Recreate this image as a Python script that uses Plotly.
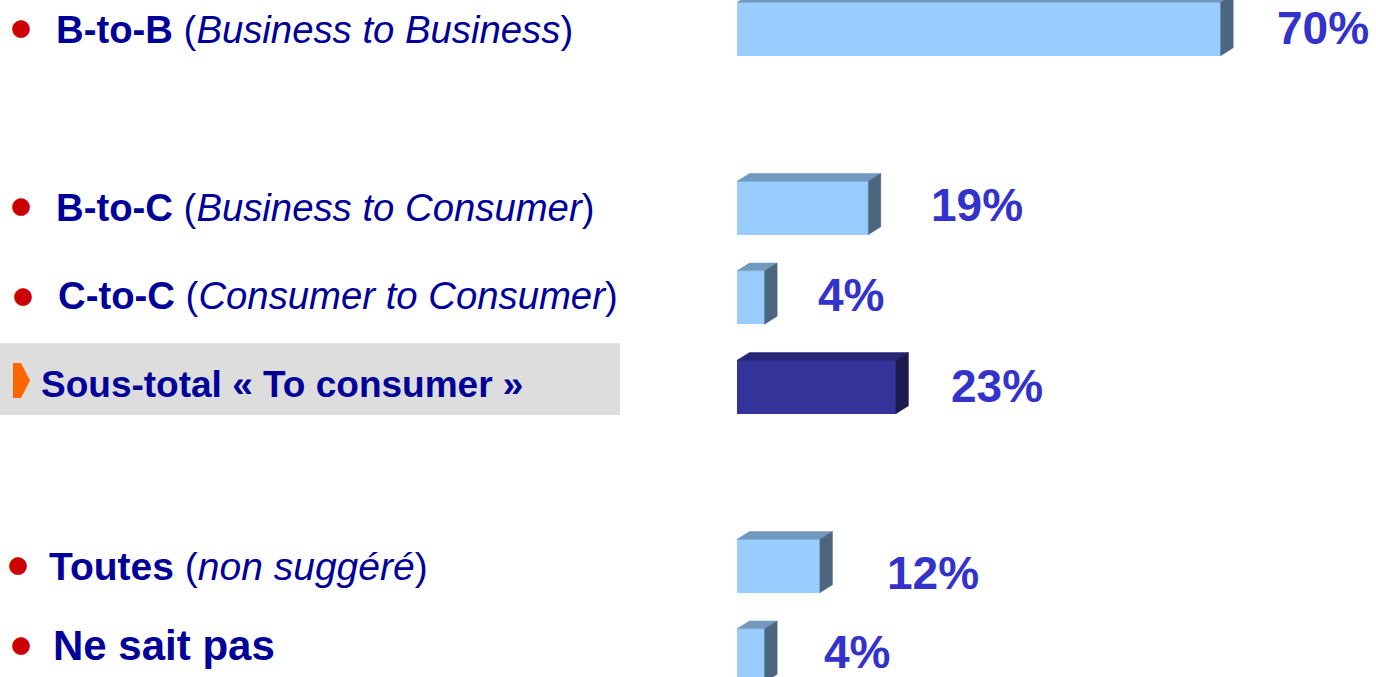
import plotly.graph_objects as go

# ---------------- data ----------------
categories = ["B-to-B", "B-to-C", "C-to-C", "Sous-total « To consumer »", "Toutes", "Ne sait pas"]
details = ["Business to Business", "Business to Consumer", "Consumer to Consumer", "", "non suggéré", ""]
values = [70, 19, 4, 23, 12, 4]
value_labels = ["70%", "19%", "4%", "23%", "12%", "4%"]
is_subtotal = [False, False, False, True, False, False]

# ---------------- layout / style ----------------
W, H = 1376, 677
rows = [0, 2, 3, 4, 6, 7]           # vertical slot of each category
PX_PER_UNIT = 6.91                   # horizontal px per percent
PX_PER_ROW = 89.5
ZERO_PX = 737
ROW0_PX = 29
bar_w = 0.596
dx = 12.5 / PX_PER_UNIT
dy = 7.8 / PX_PER_ROW

light = dict(front="#99CCFF", top="#7399C0", side="#4D6680")
dark = dict(front="#333399", top="#262673", side="#1B1B4D")

label_x_px = [54, 54, 56, 39, 47, 51]
label_size = [38.3, 38.3, 38.3, 37, 39, 42]
bullet_x_px = [21, 21, 23, None, 18, 21]
label_dy_px = [0, -1, -2.5, -3, 0, -10]
bullet_dy_px = [-2, -3, -3, 0, -2, -12]
value_dx_px = [54, 61, 51, 53, 65, 57]
value_dy_px = [-1, -3, -3, -1, 7, -4]

TEXT_BLUE = "#000099"
VALUE_BLUE = "#3333CC"
FONT = "Liberation Sans, Arial, sans-serif"

fig = go.Figure()

# front faces
fig.add_trace(go.Bar(
    x=values, y=rows, orientation="h", width=bar_w,
    marker=dict(color=[dark["front"] if s else light["front"] for s in is_subtotal], line=dict(width=0)),
    hoverinfo="skip", showlegend=False,
))

# 3D top and side faces
for v, r, s in zip(values, rows, is_subtotal):
    pal = dark if s else light
    top = r - bar_w / 2
    bot = r + bar_w / 2
    fig.add_trace(go.Scatter(
        x=[0, v, v + dx, dx, 0], y=[top, top, top - dy, top - dy, top],
        fill="toself", fillcolor=pal["top"], mode="lines", line=dict(width=0.5, color=pal["top"]),
        hoverinfo="skip", showlegend=False,
    ))
    fig.add_trace(go.Scatter(
        x=[v, v + dx, v + dx, v, v], y=[top, top - dy, bot - dy, bot, top],
        fill="toself", fillcolor=pal["side"], mode="lines", line=dict(width=0.5, color=pal["side"]),
        hoverinfo="skip", showlegend=False,
    ))

annotations = []
shapes = []
for i, (cat, det, v, vl, r, s) in enumerate(zip(categories, details, values, value_labels, rows, is_subtotal)):
    # value label
    annotations.append(dict(
        x=v, y=r, xref="x", yref="y", xanchor="left", yanchor="middle",
        xshift=value_dx_px[i], yshift=-value_dy_px[i],
        text=f"<b>{vl}</b>", showarrow=False,
        font=dict(family=FONT, size=46, color=VALUE_BLUE),
    ))
    # category label
    txt = f"<b>{cat}</b>"
    if det:
        txt += f" (<i>{det}</i>)"
    annotations.append(dict(
        x=label_x_px[i] / W, y=r, xref="paper", yref="y", xanchor="left", yanchor="middle",
        yshift=-label_dy_px[i], text=txt, showarrow=False,
        font=dict(family=FONT, size=label_size[i], color=TEXT_BLUE),
    ))
    if bullet_x_px[i] is not None:
        annotations.append(dict(
            x=bullet_x_px[i] / W, y=r, xref="paper", yref="y", xanchor="center", yanchor="middle",
            yshift=-bullet_dy_px[i], text="●", showarrow=False,
            font=dict(family="DejaVu Sans", size=23, color="#CC0000"),
        ))
    if s:
        shapes.append(dict(
            type="rect", xref="paper", yref="y", x0=0, x1=620 / W,
            y0=r - 0.49, y1=r + 0.313, fillcolor="#DDDDDD", line=dict(width=0), layer="below",
        ))
        # orange arrow bullet
        yc = r - 6.5 / PX_PER_ROW
        h = 17.5 / PX_PER_ROW
        x0, x1, x2 = 13 / W, 21 / W, 30 / W
        shapes.append(dict(
            type="path", xref="paper", yref="y",
            path=f"M {x0},{yc - h} L {x1},{yc - h} L {x2},{yc} L {x1},{yc + h} L {x0},{yc + h} Z",
            fillcolor="#FF6600", line=dict(width=0),
        ))

x_min = -ZERO_PX / PX_PER_UNIT
x_max = (W - ZERO_PX) / PX_PER_UNIT
y_top = -ROW0_PX / PX_PER_ROW
y_bot = (H - ROW0_PX) / PX_PER_ROW

fig.update_layout(
    width=W, height=H,
    margin=dict(l=0, r=0, t=0, b=0),
    paper_bgcolor="white", plot_bgcolor="white",
    xaxis=dict(range=[x_min, x_max], visible=False, fixedrange=True),
    yaxis=dict(range=[y_bot, y_top], visible=False, fixedrange=True),
    annotations=annotations, shapes=shapes,
    showlegend=False, bargap=0,
)

fig.write_html(
    "out.html",
    config={"displayModeBar": False},
    post_script="document.body.style.margin='0';document.body.style.overflow='hidden';",
)
